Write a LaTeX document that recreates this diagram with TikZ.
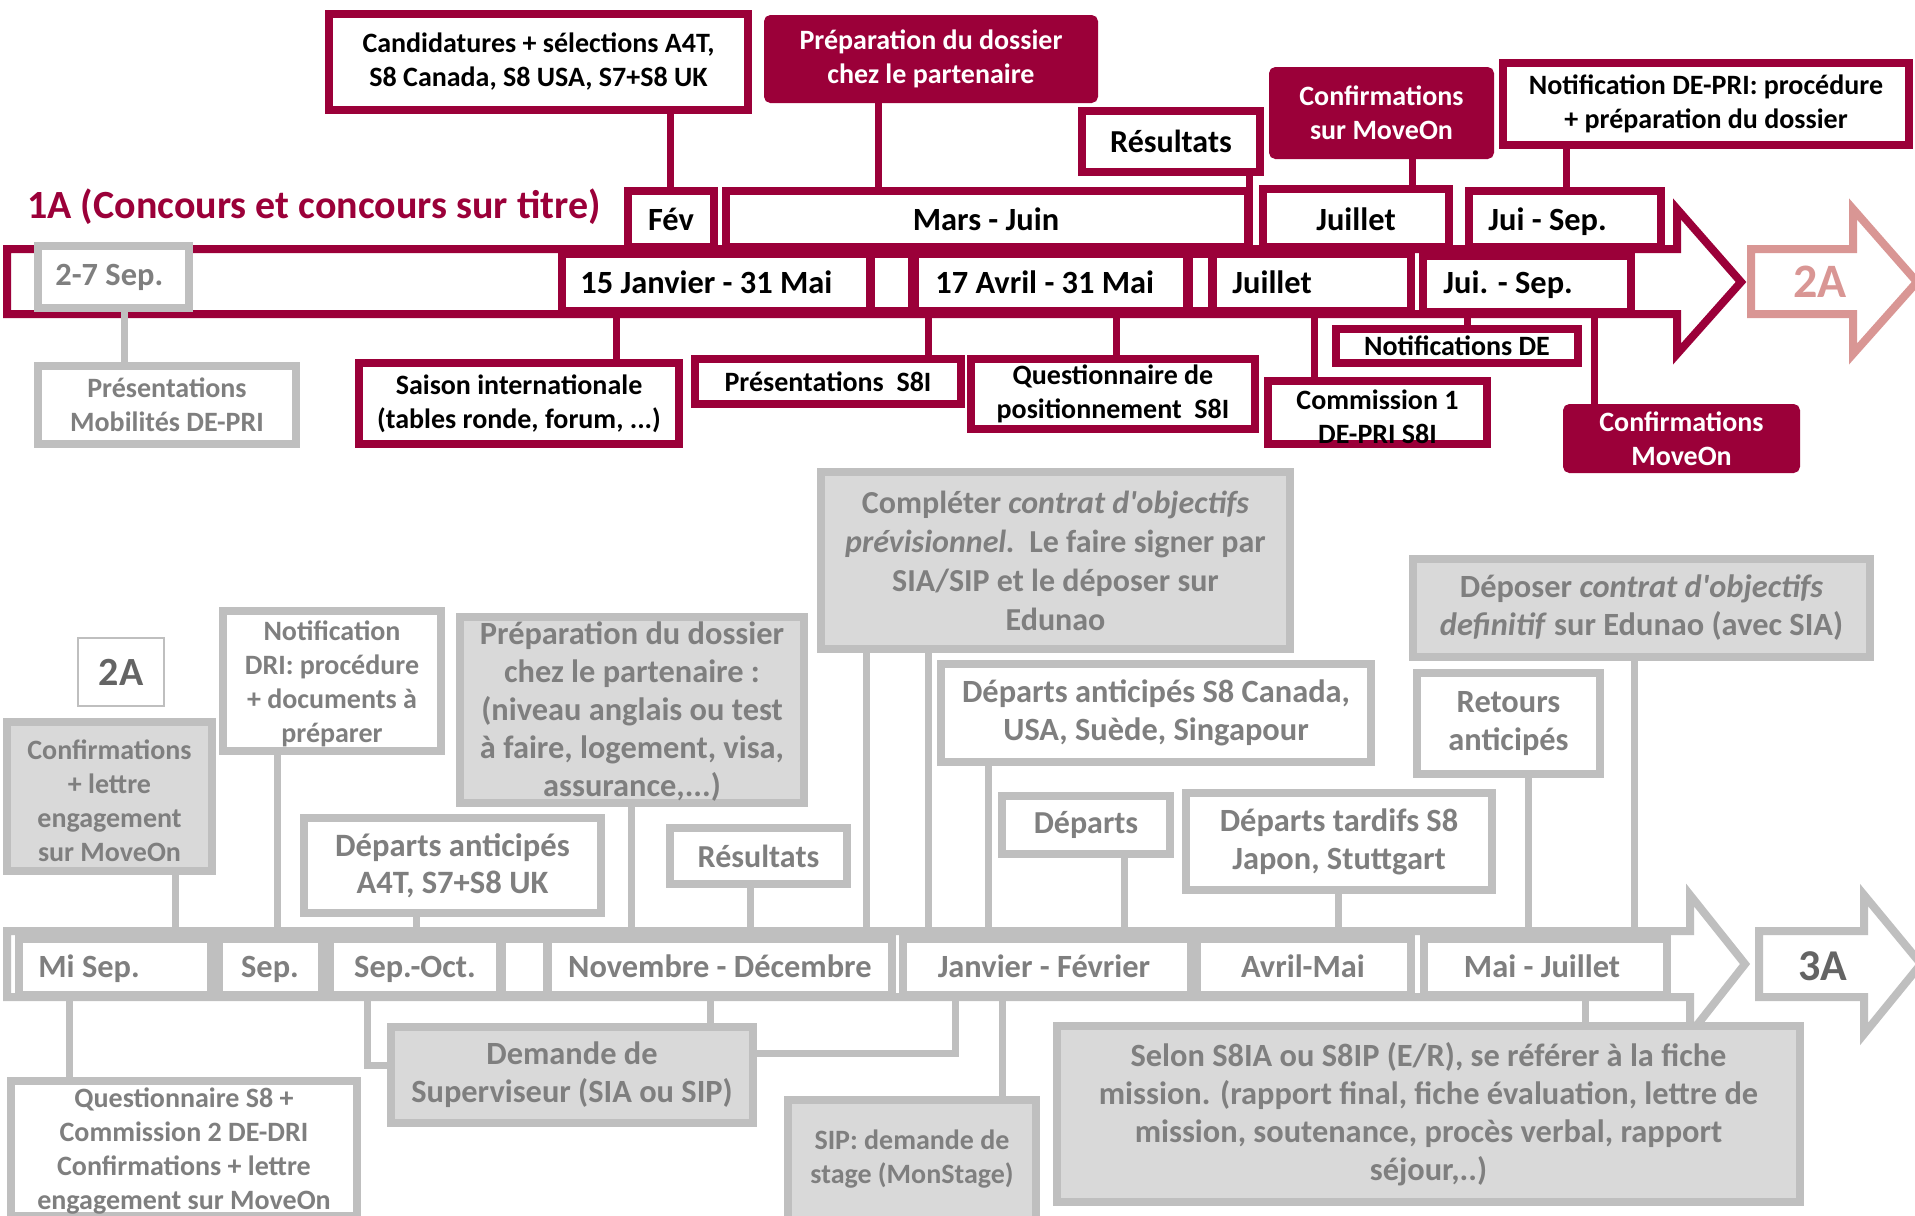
\documentclass[tikz,border=0pt]{standalone}
\usepackage{fontspec}
\setmainfont{Carlito}[Ligatures=TeXOff]
\usetikzlibrary{fit}
\definecolor{maroon}{RGB}{155,0,57}
\definecolor{pinkc}{RGB}{217,150,148}
\definecolor{gline}{RGB}{191,191,191}
\definecolor{gfillc}{RGB}{217,217,217}
\definecolor{gtext}{RGB}{127,127,127}
\definecolor{gdark}{RGB}{100,100,100}
\newcommand{\vc}[4]{\draw[#1] (#2 -| #4,0) -- (#3 -| #4,0);}
\tikzset{
 mbox/.style={draw=maroon, line width=4pt, fill=white, inner sep=0pt},
 mfull/.style={draw=maroon, line width=4pt, fill=maroon, inner sep=0pt, rounded corners=1.5pt},
 gbox/.style={draw=gline, line width=4pt, fill=white, inner sep=0pt},
 gfull/.style={draw=gline, line width=4pt, fill=gfillc, inner sep=0pt},
 mconn/.style={draw=maroon, line width=3.5pt},
 gconn/.style={draw=gline, line width=3.5pt},
 bandm/.style={draw=maroon, line width=4pt, fill=white},
 bandg/.style={draw=gline, line width=4pt, fill=white},
 txt/.style={inner sep=0pt, align=center},
 f14/.style={font=\bfseries\fontsize{14}{17}\selectfont},
 f15/.style={font=\bfseries\fontsize{16.3}{18.5}\selectfont},
 f155/.style={font=\bfseries\fontsize{16.2}{19}\selectfont},
 f16/.style={font=\bfseries\fontsize{16}{19.5}\selectfont},
 tl/.style={inner sep=0pt, font=\bfseries\fontsize{16.2}{19}\selectfont},
}
\begin{document}
\begin{tikzpicture}[x=0.5pt,y=-0.5pt]
\useasboundingbox (0,0) rectangle (1915,1215);
% ---------- top band ----------
\draw[bandm] (7,249) -- (1677,249) -- (1677,209) -- (1741,282) -- (1677,354) -- (1677,314) -- (7,314) -- cycle;
\coordinate (bandT) at (0,249);
\draw[line width=4pt, draw=pinkc, fill=white] (1751,249) -- (1853,249) -- (1853,209) -- (1917,282) -- (1853,354) -- (1853,314) -- (1751,314) -- cycle;
\node[txt, text=pinkc, font=\bfseries\fontsize{24}{28}\selectfont] (twoA) at (1820,282) {2A};
\node[mbox, fit={(562,254)(870,311)}] (j15) {};
\node[mbox, fit={(871,254)(912,311)}] (gapA) {};
\node[mbox, fit={(915,254)(1187,311)}] (a17) {};
\node[mbox, fit={(1189,254)(1212,311)}] (gapB) {};
\node[mbox, fit={(1213,254)(1411,311)}] (juil) {};
\node[mbox, fit={(1423,256)(1631,312)}] (jsep) {};
\node[mbox, fit={(628,191)(714,247)}] (fev) {};
\node[mbox, fit={(726,191)(1248,247)}] (mars) {};
\node[mbox, fit={(1263,189)(1449,247)}] (juilH) {};
\node[mbox, fit={(1469,191)(1661,247)}] (jsepH) {};
% top boxes
\node[mbox, fit={(329,14)(748,110)}] (cand) {};
\node[mfull, fit={(768,19)(1094,99)}] (prep) {};
\node[mbox, fit={(1082,111)(1260,172)}] (res) {};
\node[mfull, fit={(1273,71)(1490,155)}] (conf) {};
\node[mbox, fit={(1503,63)(1909,145)}] (notif) {};
% below top band
\node[gbox, fit={(38,246)(189,308)}] (sep27) {};
\node[gbox, fit={(38,366)(296,444)}] (presMob) {};
\node[mbox, fit={(359,363)(679,444)}] (saison) {};
\node[mbox, fit={(695,359)(961,404)}] (presS) {};
\node[mbox, fit={(971,359)(1255,429)}] (quest) {};
\node[mbox, fit={(1268,381)(1487,444)}] (comm) {};
\node[mbox, fit={(1336,329)(1578,363)}] (notifDE) {};
\node[mfull, fit={(1567,408)(1796,469)}] (confMO) {};
% ---------- bottom band ----------
\draw[bandg] (7,931) -- (1690,931) -- (1690,895) -- (1745,964) -- (1690,1034) -- (1690,997) -- (7,997) -- cycle;
\draw[bandg] (1759,931) -- (1864,931) -- (1864,895) -- (1921,964) -- (1864,1034) -- (1864,997) -- (1759,997) -- cycle;
\node[txt, text=gdark, font=\bfseries\fontsize{22}{26}\selectfont] (threeA) at (1823,966) {3A};
\node[gbox, fit={(19,939)(211,995)}] (miSep) {};
\node[gbox, fit={(219,939)(322,995)}] (sepB) {};
\node[gbox, fit={(330,939)(500,995)}] (sepOct) {};
\node[gbox, fit={(502,939)(547,995)}] (gapC) {};
\node[gbox, fit={(548,939)(892,995)}] (novDec) {};
\node[gbox, fit={(903,939)(1191,995)}] (janFev) {};
\node[gbox, fit={(1197,939)(1411,995)}] (avrMai) {};
\node[gbox, fit={(1424,939)(1667,995)}] (maiJuil) {};
% upper grey boxes
\node[draw=gline, line width=1pt, fill=white, inner sep=0pt, fit={(78,638)(164,706)}] (boxTwo) {};
\node[gfull, fit={(7,722)(212,871)}] (confL) {};
\node[gbox, fit={(223,611)(441,751)}] (notifDRI) {};
\node[gfull, fit={(460,617)(804,803)}] (prepG) {};
\node[gbox, fit={(304,818)(601,913)}] (depA) {};
\node[gbox, fit={(670,828)(847,884)}] (resG) {};
\node[gfull, fit={(821,472)(1290,649)}] (compl) {};
\node[gbox, fit={(941,664)(1371,762)}] (depS) {};
\node[gbox, fit={(1002,796)(1170,854)}] (depts) {};
\node[gbox, fit={(1186,793)(1492,890)}] (depT) {};
\node[gbox, fit={(1417,673)(1600,774)}] (retours) {};
\node[gfull, fit={(1413,559)(1870,657)}] (deposer) {};
% lower grey boxes
\node[gbox, fit={(11,1081)(357,1216)}] (questS) {};
\node[gfull, fit={(391,1027)(753,1123)}] (demSup) {};
\node[gfull, fit={(788,1100)(1036,1235)}] (sip) {};
\node[gfull, fit={(1057,1026)(1800,1202)}] (selon) {};
% ---------- connectors ----------
\vc{mconn}{cand.south}{fev.north}{670}
\vc{mconn}{prep.south}{mars.north}{878}
\vc{mconn}{res.south}{bandT}{1249}
\vc{mconn}{conf.south}{juilH.north}{1412}
\vc{mconn}{notif.south}{jsepH.north}{1566}
\vc{mconn}{j15.south}{saison.north}{616}
\vc{mconn}{a17.south}{presS.north}{928}
\vc{mconn}{a17.south}{quest.north}{1116}
\vc{mconn}{juil.south}{comm.north}{1314}
\vc{mconn}{jsep.south}{notifDE.north}{1467}
\vc{mconn}{jsep.south}{confMO.north}{1594}
\vc{gconn}{sep27.south}{presMob.north}{124}
\vc{gconn}{confL.south}{miSep.north}{175}
\vc{gconn}{notifDRI.south}{sepB.north}{277}
\vc{gconn}{depA.south}{sepOct.north}{416}
\vc{gconn}{prepG.south}{novDec.north}{631}
\vc{gconn}{resG.south}{novDec.north}{750}
\vc{gconn}{compl.south}{novDec.north}{866}
\vc{gconn}{compl.south}{janFev.north}{928}
\vc{gconn}{depS.south}{janFev.north}{988}
\vc{gconn}{depts.south}{janFev.north}{1124}
\vc{gconn}{depT.south}{avrMai.north}{1338}
\vc{gconn}{retours.south}{maiJuil.north}{1528}
\vc{gconn}{deposer.south}{maiJuil.north}{1634}
\vc{gconn}{miSep.south}{questS.north}{69}
\vc{gconn}{novDec.south}{demSup.north}{710}
\vc{gconn}{janFev.south}{sip.north}{1002}
\vc{gconn}{maiJuil.south}{selon.north}{1585}
\draw[gconn] (sepOct.south -| 367,0) |- (demSup.west |- 0,1065);
\draw[gconn] (demSup.east |- 0,1053) -| (janFev.south -| 955,0);
% ---------- texts ----------
\node[anchor=base west, inner sep=0pt, text=maroon, font=\bfseries\fontsize{20}{24}\selectfont] (title) at (27,218) {1A (Concours et concours sur titre)};
\node[txt,f14] (candT) at (cand) {Candidatures + sélections A4T,\\S8 Canada, S8 USA, S7+S8 UK};
\node[txt,f14,text=white] (prepT) at (prep) {Préparation du dossier\\chez le partenaire};
\node[txt,f16] (resT) at (res) {Résultats};
\node[txt,f14,text=white] (confT) at (conf) {Confirmations\\sur MoveOn};
\node[txt,f14] (notifT) at (notif) {Notification DE-PRI: procédure\\+ préparation du dossier};
\node[tl, anchor=base] (fevT) at (671,230) {Fév};
\node[tl, anchor=base] (marsT) at (986,230) {Mars - Juin};
\node[tl, anchor=base] (juilHT) at (1356,230) {Juillet};
\node[tl, anchor=base west] (jsepHT) at (1488,230) {Jui - Sep.};
\node[tl, anchor=base west] (j15T) at (580,293) {15 Janvier - 31 Mai};
\node[tl, anchor=base west] (a17T) at (935,293) {17 Avril - 31 Mai};
\node[tl, anchor=base west] (juilT) at (1232,293) {Juillet};
\node[tl, anchor=base west] (jsepT) at (1443,293) {Jui. - Sep.};
\node[tl, anchor=base west, text=gtext] (sep27T) at (55,285) {2-7 Sep.};
\node[txt,f14,text=gtext] (presMobT) at (presMob) {Présentations\\Mobilités DE-PRI};
\node[txt,f14] (saisonT) at (saison) {Saison internationale\\(tables ronde, forum, ...)};
\node[txt,f14] (presST) at (presS) {Présentations\ \ S8I};
\node[txt,f14] (questT) at (quest) {Questionnaire de\\positionnement\ \ S8I};
\node[txt,f14] (commT) at ([yshift=-2pt]comm.center) {Commission 1\\DE-PRI S8I};
\node[txt,f14] (notifDET) at (notifDE) {Notifications DE};
\node[txt,f14,text=white] (confMOT) at (confMO) {Confirmations\\MoveOn};
% bottom texts
\node[txt, text=gdark, font=\bfseries\fontsize{20}{24}\selectfont] (twoAT) at (boxTwo) {2A};
\node[txt,f14,text=gtext] (confLT) at ([yshift=-2pt]confL.center) {Confirmations\\+ lettre\\engagement\\sur MoveOn};
\node[txt,f14,text=gtext] (notifDRIT) at ([yshift=-1.5pt]notifDRI.center) {Notification\\DRI: procédure\\+ documents à\\préparer};
\node[txt,f155,text=gtext] (prepGT) at ([yshift=-1pt]prepG.center) {Préparation du dossier\\chez le partenaire :\\(niveau anglais ou test\\à faire, logement, visa,\\assurance,...)};
\node[txt,f15,text=gtext] (depAT) at (depA) {Départs anticipés\\A4T, S7+S8 UK};
\node[txt,f16,text=gtext] (resGT) at (resG) {Résultats};
\node[txt,f16,text=gtext] (complT) at (compl) {Compléter \textit{contrat d'objectifs}\\\textit{prévisionnel.}\ \ Le faire signer par\\SIA/SIP et le déposer sur\\Edunao};
\node[txt,f155,text=gtext] (depST) at (depS) {Départs anticipés S8 Canada,\\USA, Suède, Singapour};
\node[txt,f16,text=gtext] (deptsT) at (depts) {Départs};
\node[txt,f155,text=gtext] (depTT) at (depT) {Départs tardifs S8\\Japon, Stuttgart};
\node[txt,f155,text=gtext] (retoursT) at (retours) {Retours\\anticipés};
\node[txt,f155,text=gtext] (deposerT) at (deposer) {Déposer \textit{contrat d'objectifs}\\\textit{definitif} sur Edunao (avec SIA)};
\node[tl, anchor=base west, text=gtext] (miSepT) at (38,977) {Mi Sep.};
\node[tl, anchor=base, text=gtext] (sepBT) at (270,977) {Sep.};
\node[tl, anchor=base, text=gtext] (sepOctT) at (415,977) {Sep.-Oct.};
\node[tl, anchor=base, text=gtext] (novDecT) at (720,977) {Novembre - Décembre};
\node[tl, anchor=base, text=gtext] (janFevT) at (1044,977) {Janvier - Février};
\node[tl, anchor=base, text=gtext] (avrMaiT) at (1303,977) {Avril-Mai};
\node[tl, anchor=base, text=gtext] (maiJuilT) at (1542,977) {Mai - Juillet};
\node[txt,f14,text=gtext] (questST) at (184,1151) {Questionnaire S8 +\\Commission 2 DE-DRI\\Confirmations + lettre\\engagement sur MoveOn};
\node[txt,f155,text=gtext] (demSupT) at (demSup) {Demande de\\Superviseur (SIA ou SIP)};
\node[txt,f14,text=gtext] (sipT) at (912,1159) {SIP: demande de\\stage (MonStage)};
\node[txt,f155,text=gtext] (selonT) at (selon) {Selon S8IA ou S8IP (E/R), se référer à la fiche\\mission. (rapport final, fiche évaluation, lettre de\\mission, soutenance, procès verbal, rapport\\séjour,..)};
\end{tikzpicture}
\end{document}
